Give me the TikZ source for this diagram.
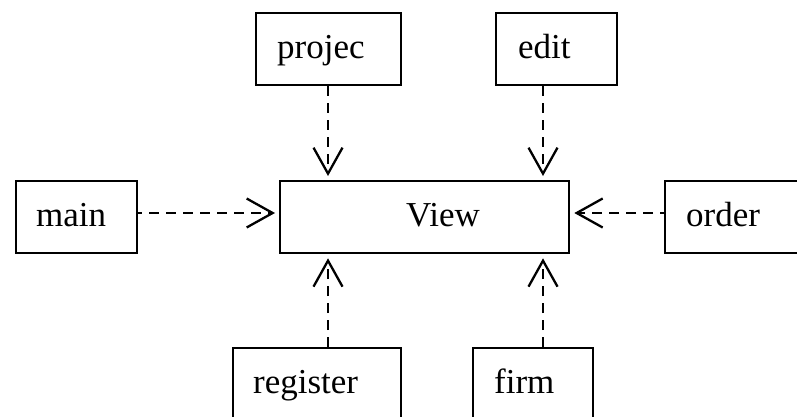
\documentclass[tikz,border=0pt]{standalone}
\usepackage{fontspec}
\setmainfont{Liberation Serif}
\usetikzlibrary{arrows.meta}

\begin{document}
\begin{tikzpicture}[x=1pt, y=-1pt,
  % class box: #1 = width, #2 = left padding of the name
  classbox/.style 2 args={draw, line width=2.3pt, anchor=north west,
    inner sep=0pt, text height=45pt, text depth=27pt,
    text width=#1, align=left,
    font=\fontsize{35pt}{42pt}\selectfont,
    execute at begin node={\hspace*{#2}}},
  dep/.style={line width=2.3pt, dash pattern=on 10pt off 7pt,
    -{Straight Barb[length=26pt, width=29pt, line width=2.3pt]},
    shorten >=4pt}
]
\useasboundingbox (0,0) rectangle (797,417);
\clip (0,0) rectangle (797,417);

% classes
\node[classbox={145pt}{21pt}] (projec)   at (255,12)  {projec};
\node[classbox={121pt}{22pt}] (edit)     at (495,12)  {edit};
\node[classbox={121pt}{20pt}] (main)     at (15,180)  {main};
\node[classbox={289pt}{126pt}] (view)    at (279,180) {View};
\node[classbox={160pt}{21pt}] (order)    at (664,180) {order};
\node[classbox={168pt}{20pt}] (register) at (232,347) {register};
\node[classbox={120pt}{21pt}] (firm)     at (472,347) {firm};

% connector lanes
\coordinate (laneA) at (328,0);
\coordinate (laneB) at (543,0);
\coordinate (laneH) at (0,213);

% dependencies on View
\draw[dep] (projec.south -| laneA) -- (view.north -| laneA);
\draw[dep] (edit.south -| laneB) -- (view.north -| laneB);
\draw[dep, dash phase=6pt] (main.east |- laneH) -- (view.west |- laneH);
\draw[dep, dash phase=6pt] (order.west |- laneH) -- (view.east |- laneH);
\draw[dep] (register.north -| laneA) -- (view.south -| laneA);
\draw[dep] (firm.north -| laneB) -- (view.south -| laneB);
\end{tikzpicture}
\end{document}
